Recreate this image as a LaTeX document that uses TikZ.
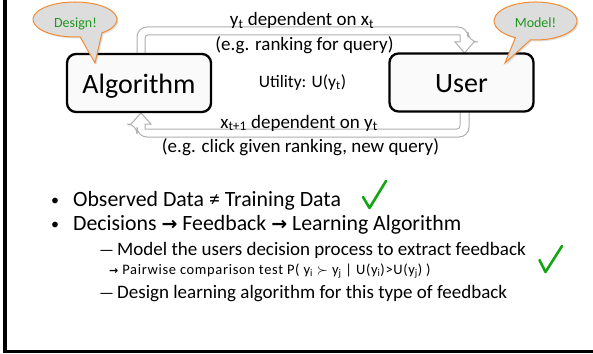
\documentclass[tikz,border=0pt]{standalone}
\usepackage{fontspec}
\setmainfont{Carlito}
\newfontfamily\djv{DejaVu Sans}
\usetikzlibrary{calc,shadows}
\definecolor{callfill}{RGB}{221,221,221}
\definecolor{callline}{RGB}{240,140,50}
\definecolor{callgreen}{RGB}{30,150,30}
\definecolor{checkgreen}{RGB}{20,165,20}
\definecolor{arrgray}{RGB}{175,175,175}
\definecolor{boxfill}{RGB}{250,250,250}
\newcommand\setfs[1]{\fontsize{#1}{#1}\selectfont}
\tikzset{
  bigbox/.style={draw=black, line width=2.3pt, rounded corners=9pt, fill=boxfill,
    minimum width=144pt, minimum height=58pt, inner sep=0pt,
    font=\setfs{28}, text height=24pt, text depth=4pt},
  blockarrow/.style={draw=arrgray, line width=1pt, fill=white},
  callout/.style={draw=callline, line width=1pt, fill=callfill,
    drop shadow={opacity=0.25, shadow xshift=1.5pt, shadow yshift=-1.5pt}},
  calltext/.style={text=callgreen, font=\setfs{14}, inner sep=0pt, anchor=base},
  lbl/.style={inner sep=0pt, font=\setfs{19}, anchor=base},
  bul/.style={inner sep=0pt, anchor=base west, font=\setfs{21.8}},
  subl/.style={inner sep=0pt, anchor=base west, font=\setfs{19}},
  tiny/.style={inner sep=0pt, anchor=base west, font=\setfs{14.5}\addfontfeatures{LetterSpace=4.5}},
  check/.style={draw=checkgreen, line width=2.6pt, line join=round, line cap=round},
}
\begin{document}
\begin{tikzpicture}[x=1pt, y=-1pt]
\useasboundingbox (0,0) rectangle (593,353);
% frame
\fill[black] (3,0) rectangle (7,353);
\fill[black] (3,349.5) rectangle (593,353);
% block arrows
\draw[blockarrow] (137,56) [rounded corners=10pt] -- (137,27) -- (468,27) -- (468,42) [sharp corners]
  -- (474,42) -- (464.5,53) -- (455,42) -- (460,42) -- (460,35) [rounded corners=3pt]
  -- (145,35) -- (145,56) [sharp corners] -- cycle;
\draw[blockarrow] (469,110) [rounded corners=10pt] -- (469,137) -- (137,137) -- (137,124) [sharp corners]
  -- (131,124) -- (141,113) -- (151,124) -- (145,124) -- (145,129) [rounded corners=3pt]
  -- (460,129) -- (460,110) [sharp corners] -- cycle;
% boxes
\node[bigbox] (alg) at (139,83) {Algorithm};
\node[bigbox] (usr) at (461.5,82.5) {User};
% callouts
\draw[callout] (95,63) -- (102.0,32.9) arc[start angle=50, end angle=-277, x radius=42, y radius=17.5] -- cycle;
\draw[callout] (505,63) -- (515.4,37.6) arc[start angle=119, end angle=457, x radius=41.5, y radius=19] -- cycle;
\node[calltext] (des) at (75.5,27.7) {Design!};
\node[calltext] (mod) at (535.5,28) {Model!};
% labels
\node[lbl] (t1) at (302,26) {y\textsubscript{t} dependent on x\textsubscript{t}};
\node[lbl] (t2) at (304.5,50) {(e.g. ranking for query)};
\node[lbl, font=\setfs{17.5}] (ut) at (302.5,87) {Utility: U(y\textsubscript{t})};
\node[lbl] (b1) at (299,128) {x\textsubscript{t+1} dependent on y\textsubscript{t}};
\node[lbl] (b2) at (300.5,152) {(e.g. click given ranking, new query)};
% bullets
\node[bul, font=\setfs{16}] (d1) at (51,205) {•};
\node[bul] (l1) at (73,206) {Observed Data ≠ Training Data};
\node[bul, font=\setfs{16}] (d2) at (51,229) {•};
\node[bul] (l2) at (73,230) {Decisions {\djv\bfseries\setfs{19}→} Feedback {\djv\bfseries\setfs{19}→} Learning Algorithm};
\node[subl, font=\setfs{16.5}] (s1) at (99,255) {—};
\node[subl] (s1t) at (117,255) {Model the users decision process to extract feedback};
\node[tiny] (p1) at (109,274) {{\djv\bfseries\setfs{11}→} Pairwise comparison test P( y\textsubscript{i} $\succ$ y\textsubscript{j} | U(y\textsubscript{i})>U(y\textsubscript{j}) )};
\node[subl, font=\setfs{16.5}] (s2) at (99,298) {—};
\node[subl] (s2t) at (117,298) {Design learning algorithm for this type of feedback};
% checkmarks
\draw[check] (363,197) -- (369.5,208) -- (386,181);
\draw[check] (539.5,260) -- (545.5,272) -- (562,246);
\end{tikzpicture}
\end{document}
